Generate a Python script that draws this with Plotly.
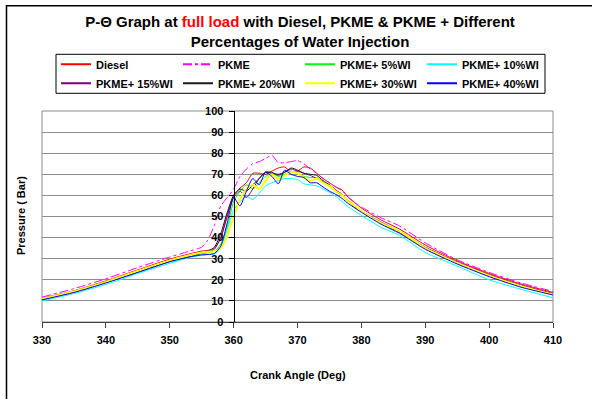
import plotly.graph_objects as go

# Crank angle (deg)
angle = [330, 335, 340, 345, 350, 353, 355, 356, 357, 358, 359, 360, 361, 362, 363, 364, 365,
         366, 367, 368, 369, 370, 371, 372, 373, 374, 375, 376, 377, 378, 379, 380,
         383, 386, 390, 395, 400, 405, 410]

diesel = [11.3, 14.8, 19.5, 24.7, 29.8, 32.2, 33.6, 34.0, 35.0, 40, 51, 60, 63.5, 66, 70.5, 70.5, 70,
          71.5, 73, 73.5, 71, 71.5, 73.5, 73, 70.5, 68, 66, 64, 62.5, 59, 56.5, 54,
          48.5, 44, 36.5, 29, 23, 18, 14]
pkme = [11.8, 15.8, 20.5, 25.8, 30.8, 33.5, 35.5, 39, 46, 55, 59, 63, 69, 72.5, 75, 76, 77.5,
        79, 75.5, 75.5, 76, 76.5, 75, 72.5, 70.5, 68, 66, 64, 62, 59, 56.5, 54.5,
        49.5, 45.5, 37.5, 29.5, 23.5, 18.5, 14.5]
wi5 = [10.8, 14.2, 18.8, 23.8, 28.8, 31, 32.3, 32.8, 33.5, 37, 45, 57, 62, 65, 63, 66, 69,
       70.5, 69, 70, 71.5, 70.5, 69, 68.5, 68.5, 66.5, 64.5, 62, 60, 57, 54.5, 52.5,
       47, 42.5, 35, 28, 22, 17, 13]
wi10 = [10, 13.5, 17.8, 23, 27.8, 30.5, 31.6, 32, 32.2, 35, 44, 53, 57, 59.5, 58, 61, 64.5,
        66, 67, 68, 68, 67.5, 65.5, 65, 64.5, 63, 61.5, 59.5, 57, 54.5, 52.5, 50.5,
        45, 41, 33, 26.5, 20, 15.5, 11.5]
wi15 = [10.9, 14.4, 19, 24, 29, 31.3, 32.6, 33, 34.5, 40, 50, 59, 62, 59, 63, 68, 71,
        71, 69.5, 71, 72.5, 71.5, 70.5, 69.5, 68, 66.5, 65, 62.5, 60.5, 57.5, 55, 52.5,
        47.5, 43, 35.5, 28.5, 22.5, 17.5, 13.5]
wi20 = [10.7, 14.2, 18.8, 23.8, 28.8, 31, 32.5, 33.5, 35.5, 42, 52, 60, 63, 62, 65, 68, 71,
        70.5, 70, 71, 73, 72, 70.5, 70, 69.5, 67, 65, 62.5, 60, 57, 54.5, 52.5,
        47, 42.5, 35, 28, 22, 17, 13]
wi30 = [11, 14.5, 19, 24.2, 29.2, 31.5, 32.8, 33.2, 33.5, 35, 41, 50, 58, 63, 65, 63, 67,
        70, 67.5, 69.5, 71, 70.5, 68.5, 67, 68, 66, 64.5, 62, 60, 57, 55, 52.5,
        47, 43, 35, 28, 22, 17, 13]
wi40 = [10.5, 14, 18.5, 23.5, 28.5, 30.8, 31.8, 32, 32.5, 36, 47, 59, 55, 62, 68, 65, 71,
        69, 65.5, 72, 70, 69, 68.5, 66, 66, 64, 62, 60.5, 58.5, 56, 54, 52,
        46.5, 42, 34.5, 27.5, 21.5, 16.5, 12.8]

series_names = ["Diesel", "PKME", "PKME+ 5%WI", "PKME+ 10%WI",
                "PKME+ 15%WI", "PKME+ 20%WI", "PKME+ 30%WI", "PKME+ 40%WI"]
series_values = [diesel, pkme, wi5, wi10, wi15, wi20, wi30, wi40]
series_colors = ["#FF0000", "#FF00FF", "#00FF00", "#00FFFF",
                 "#800080", "#1a1a1a", "#FFFF00", "#0000FF"]
series_dash = ["solid", "dashdot", "solid", "solid", "solid", "solid", "solid", "solid"]
series_width = [1, 1, 1, 1, 1, 1, 2, 1]

x_ticks = [330, 340, 350, 360, 370, 380, 390, 400, 410]
y_ticks = [0, 10, 20, 30, 40, 50, 60, 70, 80, 90, 100]

FONT = "Liberation Sans, Arial, sans-serif"

fig = go.Figure()
for name, vals, col, dash, w in zip(series_names, series_values, series_colors, series_dash, series_width):
    fig.add_trace(go.Scatter(
        x=angle, y=vals, name=name, mode="lines", legendgroup=name, showlegend=False,
        line=dict(color=col, width=w, dash=dash, shape="spline", smoothing=0.6),
    ))
# legend entries (slightly thicker sample lines, as in the reference key)
for name, col, dash in zip(series_names, series_colors, series_dash):
    fig.add_trace(go.Scatter(
        x=[None], y=[None], name=name, mode="lines", legendgroup=name, showlegend=True,
        line=dict(color=col, width=2, dash=dash),
    ))

W, H = 592, 399
L, R, T, B = 42, 39, 111, 77
pw, ph = W - L - R, H - T - B

def px_x(p):
    return (p - L) / pw

def px_y(p):
    return (H - B - p) / ph

fig.update_layout(
    width=W, height=H,
    margin=dict(l=L, r=R, t=T, b=B, pad=0),
    paper_bgcolor="white", plot_bgcolor="white",
    font=dict(family=FONT, size=11, color="black", weight="bold"),
    title=dict(
        text="P-Θ Graph at <span style='color:#FF0000'>full load</span> with Diesel, PKME &amp; PKME + Different<br>Percentages of Water Injection",
        x=px_x(300), xanchor="center", xref="paper",
        y=1 - 27 / H, yanchor="top", yref="container",
        font=dict(family=FONT, size=15, color="black", weight="bold"),
    ),
    showlegend=True,
    legend=dict(
        orientation="h",
        x=px_x(56), xanchor="left",
        y=px_y(49.8), yanchor="top",
        borderwidth=0,
        bgcolor="rgba(0,0,0,0)",
        entrywidth=77, entrywidthmode="pixels",
        font=dict(family=FONT, size=11, color="black", weight="bold"),
        tracegroupgap=0,
    ),
    xaxis=dict(
        range=[330, 410], tickvals=x_ticks, ticktext=[str(v) for v in x_ticks],
        showgrid=False, zeroline=False,
        showline=True, linecolor="#404040", linewidth=1,
        ticks="outside", ticklen=5, tickcolor="#404040", tickwidth=1,
        tickfont=dict(family=FONT, size=11, color="black", weight="bold"),
        ticklabelstandoff=3,
    ),
    yaxis=dict(
        range=[0, 100], tickvals=y_ticks, ticktext=[str(v) for v in y_ticks],
        anchor="free", position=(360 - 330) / (410 - 330),
        showgrid=True, gridcolor="#8c8c8c", gridwidth=1,
        zeroline=False,
        showline=True, linecolor="black", linewidth=1,
        ticks="outside", ticklen=5, tickcolor="black", tickwidth=1,
        tickfont=dict(family=FONT, size=11, color="black", weight="bold"),
        ticklabelstandoff=3,
    ),
    shapes=[
        dict(type="rect", xref="paper", yref="paper", x0=0, x1=1, y0=0, y1=1,
             line=dict(color="#8c8c8c", width=1), layer="below"),
        dict(type="rect", xref="paper", yref="paper",
             x0=px_x(6.5), x1=px_x(640), y0=px_y(440), y1=px_y(5.7),
             line=dict(color="black", width=1.5), layer="below"),
        dict(type="rect", xref="paper", yref="paper",
             x0=px_x(56), x1=px_x(545), y0=px_y(93.3), y1=px_y(54.3),
             line=dict(color="black", width=1), fillcolor="white", layer="below"),
    ],
    annotations=[
        dict(text="Crank Angle (Deg)", xref="paper", yref="paper",
             x=px_x(298), y=px_y(375), xanchor="center", yanchor="middle",
             showarrow=False, font=dict(family=FONT, size=11, color="black", weight="bold")),
        dict(text="Pressure ( Bar)", xref="paper", yref="paper",
             x=px_x(21), y=px_y(216), xanchor="center", yanchor="middle", textangle=-90,
             showarrow=False, font=dict(family=FONT, size=11, color="black", weight="bold")),
    ],
)

fig.write_html("out.html")
